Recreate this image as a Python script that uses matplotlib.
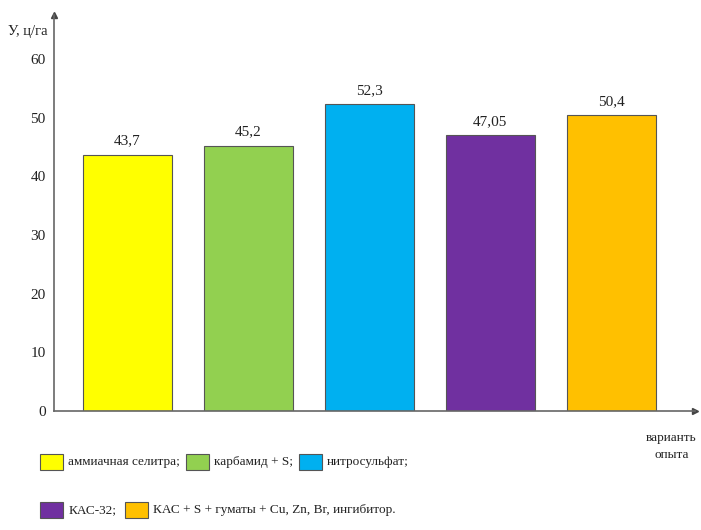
import matplotlib
matplotlib.use('Agg')
import matplotlib.pyplot as plt
from matplotlib.patches import Rectangle

plt.rcParams['font.family'] = ['Liberation Serif', 'DejaVu Serif']

# урожайность по вариантам опыта, ц/га
variants = ["аммиачная селитра;", "карбамид + S;", "нитросульфат;",
            "КАС-32;", "КАС + S + гуматы + Cu, Zn, Br, ингибитор."]
yields = [43.7, 45.2, 52.3, 47.05, 50.4]
value_labels = ["43,7", "45,2", "52,3", "47,05", "50,4"]
colors = ["#FFFF00", "#92D050", "#00B0F0", "#7030A0", "#FFC000"]
yticks = [0, 10, 20, 30, 40, 50, 60]

fig = plt.figure(figsize=(7.01, 5.30), dpi=100)
ax = fig.add_axes([0.077, 0.2245, 0.914, 0.7475])

x = list(range(len(yields)))
bars = ax.bar(x, yields, width=0.735, color=colors, edgecolor="#555555", linewidth=0.8)
for b, lab in zip(bars, value_labels):
    ax.text(b.get_x() + b.get_width() / 2, b.get_height() + 1.2, lab,
            ha="center", va="bottom", fontsize=11, color="#222222")

ax.set_xlim(-0.607, 4.69)
ax.set_ylim(0, 67.5)
ax.set_xticks([])
ax.set_yticks(yticks)
ax.tick_params(axis="y", length=0, pad=6, labelsize=11, labelcolor="#222222")
for s in ["top", "right"]:
    ax.spines[s].set_visible(False)
for s in ["left", "bottom"]:
    ax.spines[s].set_color("#666666")
    ax.spines[s].set_linewidth(1.2)

# стрелки на концах осей
ax.plot(1, 0, ">", color="#444444", markersize=5, transform=ax.transAxes, clip_on=False)
ax.plot(0, 1, "^", color="#444444", markersize=5, transform=ax.transAxes, clip_on=False)

fig.text(0.012, 0.94, "У, ц/га", fontsize=10.5, color="#222222", va="center")
fig.text(0.958, 0.157, "варианть\nопыта", fontsize=9.5, color="#222222",
         ha="center", va="center", linespacing=1.6)

# легенда в две строки
W, H = 701, 530
legend_rows = [
    [(40, 68, 0), (186, 214, 1), (299, 327, 2)],
    [(40, 69, 3), (125, 153, 4)],
]
row_y = [462, 510]
for row, yc in zip(legend_rows, row_y):
    for px, tx, i in row:
        fig.patches.append(Rectangle((px / W, 1 - (yc + 8) / H), 23 / W, 16 / H,
                                     transform=fig.transFigure, facecolor=colors[i],
                                     edgecolor="#555555", linewidth=0.8))
        fig.text(tx / W, 1 - yc / H, variants[i], fontsize=9.5, color="#222222",
                 va="center")

fig.savefig("out.png", dpi=100)
